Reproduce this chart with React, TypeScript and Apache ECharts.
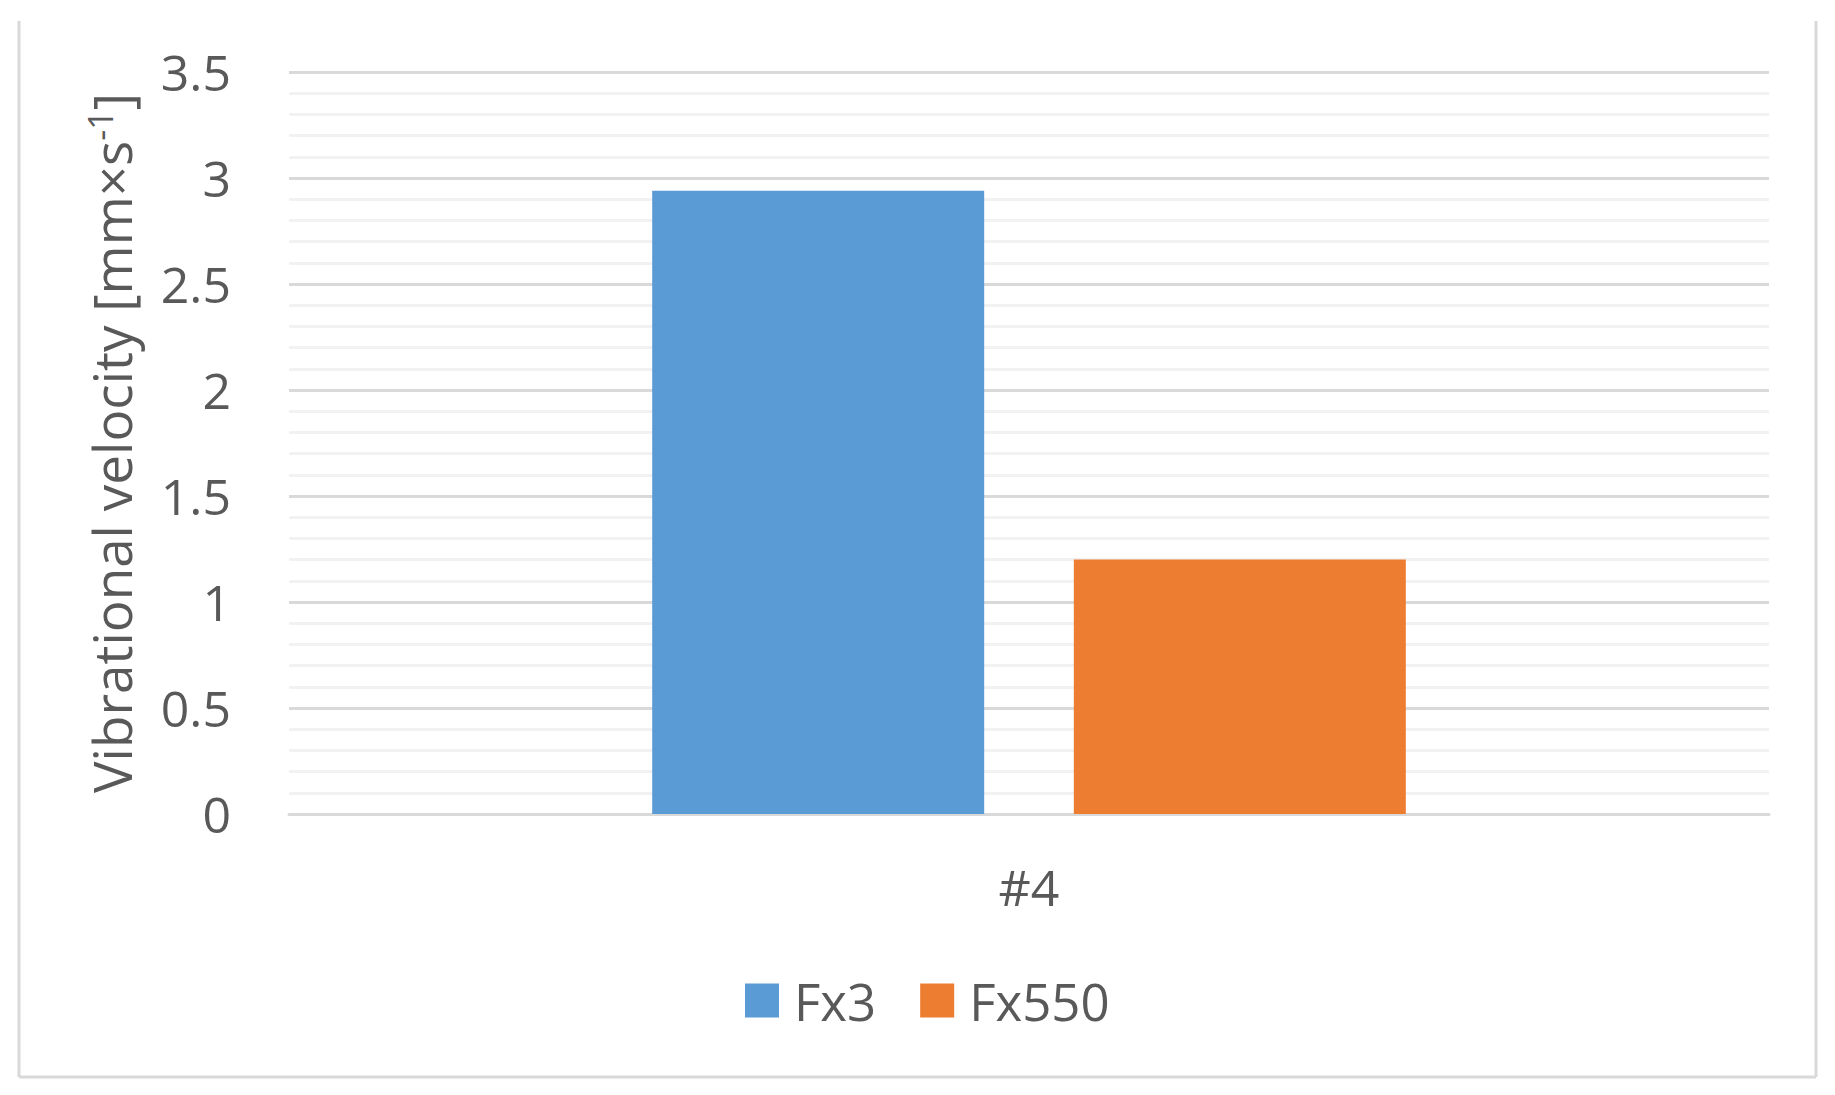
import React, { useEffect, useRef } from "react";
import * as echarts from "echarts";

const categories = ["#4"];
const fx3Values = [2.94];
const fx550Values = [1.2];
const seriesNames = ["Fx3", "Fx550"];

export default function App() {
  const ref = useRef<HTMLDivElement>(null);
  useEffect(() => {
    document.body.style.margin = "0";
    const chart = echarts.init(ref.current!, null, { renderer: "svg" });
    const font = "'Open Sans', sans-serif";
    const txt = "#595959";
    chart.setOption({
      animation: false,
      backgroundColor: "#ffffff",
      textStyle: { fontFamily: font },
      graphic: [
        { type: "line", shape: { x1: 19, y1: 21, x2: 19, y2: 1077 }, style: { stroke: "#d9d9d9", lineWidth: 3 } },
        { type: "line", shape: { x1: 1816, y1: 21, x2: 1816, y2: 1077 }, style: { stroke: "#d9d9d9", lineWidth: 3 } },
        { type: "line", shape: { x1: 19, y1: 1077, x2: 1816, y2: 1077 }, style: { stroke: "#d9d9d9", lineWidth: 3 } },
      ],
      grid: { left: 289, right: 66, top: 72, bottom: 281 },
      legend: {
        left: 740,
        top: 970,
        itemWidth: 34,
        itemHeight: 34,
        itemGap: 44,
        icon: "rect",
        textStyle: { color: txt, fontSize: 51, fontFamily: font, padding: [0, 0, 0, 10] },
        data: seriesNames,
      },
      xAxis: {
        type: "category",
        data: categories,
        axisLine: { show: true, lineStyle: { color: "#d9d9d9", width: 3 } },
        axisTick: { show: false },
        axisLabel: { color: txt, fontSize: 50, margin: 48, fontFamily: font },
      },
      yAxis: {
        type: "value",
        min: 0,
        max: 3.5,
        interval: 0.5,
        axisLine: { show: false },
        axisTick: { show: false },
        axisLabel: { color: txt, fontSize: 50, margin: 58, fontFamily: font },
        splitLine: { show: true, lineStyle: { color: "#d9d9d9", width: 3 } },
        minorTick: { show: false, splitNumber: 5 },
        minorSplitLine: { show: true, lineStyle: { color: "#f2f2f2", width: 3 } },
        name: "Vibrational velocity [mm×s{sup|-1}]",
        nameLocation: "middle",
        nameGap: 150,
        nameRotate: 90,
        nameTextStyle: {
          color: txt,
          fontSize: 53,
          fontFamily: font,
          rich: {
            sup: { fontSize: 34, color: txt, fontFamily: font, verticalAlign: "top", padding: [0, 0, 22, 0] },
          },
        },
      },
      series: [
        {
          name: seriesNames[0],
          type: "bar",
          data: fx3Values,
          barWidth: 332,
          barGap: "27%",
          itemStyle: { color: "#5b9bd5" },
        },
        {
          name: seriesNames[1],
          type: "bar",
          data: fx550Values,
          barWidth: 332,
          barGap: "27%",
          itemStyle: { color: "#ed7d31" },
        },
      ],
    });
    return () => chart.dispose();
  }, []);
  return <div ref={ref} style={{ position: "fixed", left: 0, top: 0, width: 1835, height: 1095 }} />;
}
